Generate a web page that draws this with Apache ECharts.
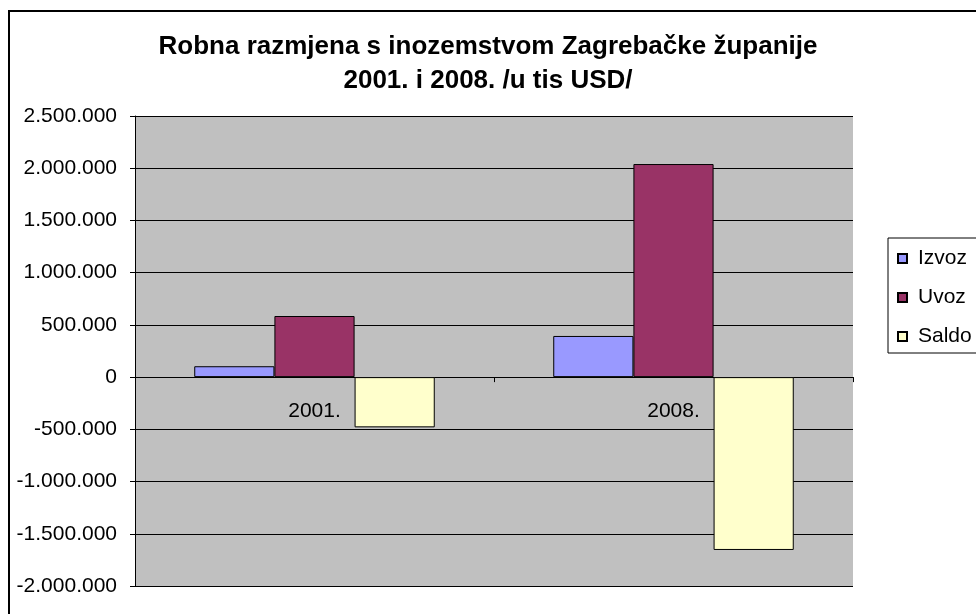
<!DOCTYPE html>
<html>
<head>
<meta charset="utf-8">
<script src="https://cdn.jsdelivr.net/npm/echarts@6/dist/echarts.min.js"></script>
<style>
  html, body { margin: 0; padding: 0; background: #fff; }
  #chart { width: 976px; height: 614px; }
</style>
</head>
<body>
<div id="chart"></div>
<script>
// values (u tis USD)
const categories = ['2001.', '2008.'];
const izvoz = [104000, 394000];
const uvoz = [585000, 2040000];
const saldo = [-481000, -1655000];
const yMin = -2000000, yMax = 2500000, yStep = 500000;

const fmt = v => (v < 0 ? '-' : '') + String(Math.abs(v)).replace(/\B(?=(\d{3})+(?!\d))/g, '.');

const font = 'Liberation Sans, Arial, sans-serif';
const chart = echarts.init(document.getElementById('chart'));

// plot box
const gTop = 116, gBottom = 28, gH = 614 - gTop - gBottom;
// x axis sits on the zero line
const zeroOffset = -gH * (0 - yMin) / (yMax - yMin);

const barStyle = color => ({ color: color, borderColor: '#000', borderWidth: 1 });

chart.setOption({
  animation: false,
  backgroundColor: '#fff',
  textStyle: { fontFamily: font },
  graphic: [{
    type: 'rect',
    shape: { x: 9, y: 11, width: 1000, height: 700 },
    style: { fill: 'none', stroke: '#000', lineWidth: 2 },
    silent: true
  }],
  title: {
    text: 'Robna razmjena s inozemstvom Zagrebačke županije\n2001. i 2008. /u tis USD/',
    left: 'center',
    top: 25,
    textStyle: { fontFamily: font, fontSize: 26, fontWeight: 'bold', color: '#000', lineHeight: 34 }
  },
  legend: {
    orient: 'vertical',
    left: 888,
    top: 238,
    padding: [10, 20, 6, 9],
    itemWidth: 9,
    itemHeight: 9,
    itemGap: 18,
    icon: 'rect',
    borderColor: '#000',
    borderWidth: 1,
    textStyle: { fontFamily: font, fontSize: 21, lineHeight: 19, color: '#000', padding: [0, 0, 0, 6] },
    data: ['Izvoz', 'Uvoz', 'Saldo']
  },
  grid: {
    left: 135, right: 123, top: gTop, bottom: gBottom,
    outerBoundsMode: 'none',
    show: true, backgroundColor: '#C0C0C0', borderWidth: 0
  },
  xAxis: {
    type: 'category',
    data: categories,
    position: 'bottom',
    offset: zeroOffset,
    axisLine: { onZero: false, lineStyle: { color: '#000', width: 1 } },
    axisTick: { show: true, length: 5, lineStyle: { color: '#000' } },
    axisLabel: { color: '#000', fontSize: 21, margin: 24, fontFamily: font },
    splitLine: { show: false }
  },
  yAxis: {
    type: 'value',
    min: yMin, max: yMax, interval: yStep,
    axisLine: { show: true, lineStyle: { color: '#000', width: 1 } },
    axisTick: { show: true, length: 5, lineStyle: { color: '#000' } },
    axisLabel: { color: '#000', fontSize: 21, margin: 18, fontFamily: font, formatter: fmt },
    splitLine: { show: true, lineStyle: { color: '#000', width: 1 } }
  },
  series: [
    { name: 'Izvoz', type: 'bar', data: izvoz, barGap: '0%', barCategoryGap: '33%', itemStyle: barStyle('#9999FF') },
    { name: 'Uvoz', type: 'bar', data: uvoz, barGap: '0%', barCategoryGap: '33%', itemStyle: barStyle('#993366') },
    { name: 'Saldo', type: 'bar', data: saldo, barGap: '0%', barCategoryGap: '33%', itemStyle: barStyle('#FFFFCC') }
  ]
});
</script>
</body>
</html>
